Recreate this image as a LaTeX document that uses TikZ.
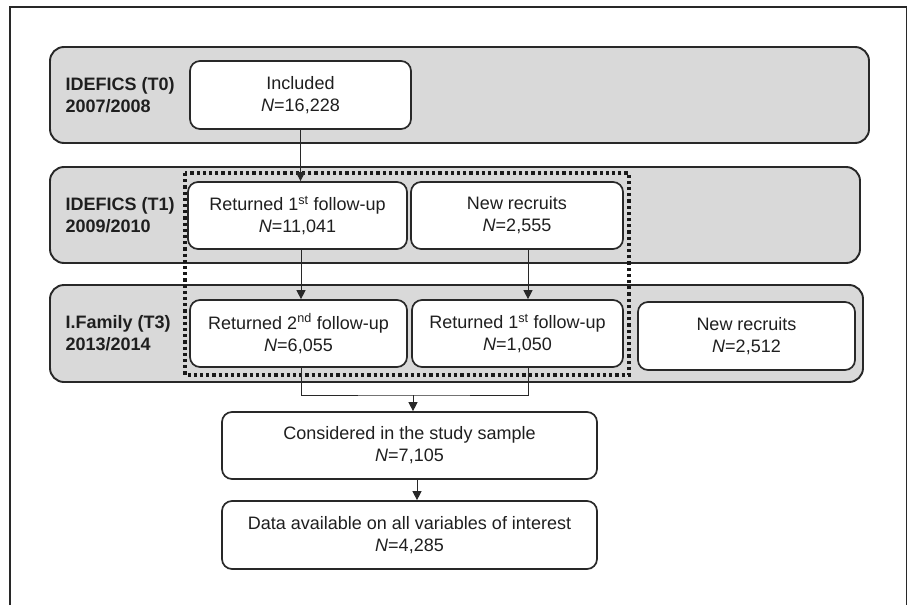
\documentclass[tikz,border=0pt]{standalone}
\usepackage{fontspec}
\setmainfont{Liberation Sans}
\usepackage{tikz}
\usetikzlibrary{arrows.meta,positioning,calc}
\definecolor{bandgray}{RGB}{217,217,217}
\definecolor{linegray}{RGB}{40,40,40}

\begin{document}
\begin{tikzpicture}[x=1pt, y=-1pt,
    every node/.style={font=\fontsize{18}{22}\selectfont, text=black!88},
    band/.style={draw=linegray, line width=1.9pt, rounded corners=14pt, fill=bandgray},
    stage/.style={draw=linegray, line width=1.7pt, rounded corners=10pt, fill=white, align=center},
    wave/.style={anchor=west, align=left, font=\fontsize{18}{22}\selectfont\bfseries},
    flow/.style={-{Triangle[length=9pt,width=9pt]}, line width=1pt, linegray}]
    \useasboundingbox (0,0) rectangle (912,605);
    \draw[line width=1.7pt, linegray] (10,605) -- (10,7) -- (906.5,7) -- (906.5,605);

    % time points
    \node[band, minimum width=819, minimum height=96] (bandA) at (459.5,95) {};
    \node[band, minimum width=810, minimum height=96] (bandB) at (455,215) {};
    \node[band, minimum width=813, minimum height=97] (bandC) at (456.5,333.5) {};

    \node[wave] (labA) at (62,95) {IDEFICS (T0)\\2007/2008};
    \node[wave] (labB) at (62,215) {IDEFICS (T1)\\2009/2010};
    \node[wave] (labC) at (62,333.5) {I.Family (T3)\\2013/2014};

    % samples
    \node[stage, minimum width=221, minimum height=68] (incl) at (300.5,95) {Included\\\textit{N}=16,228};

    \node[stage, minimum width=219, minimum height=67] (ret1) at (297.5,215.5) {Returned 1\textsuperscript{st} follow-up\\\textit{N}=11,041};
    \node[stage, minimum width=212, minimum height=67] (new1) at (517,215.5) {New recruits\\\textit{N}=2,555};

    \node[stage, minimum width=217, minimum height=67] (ret2) at (298.5,333.5) {Returned 2\textsuperscript{nd} follow-up\\\textit{N}=6,055};
    \node[stage, minimum width=211, minimum height=67] (ret1b) at (517.5,333.5) {Returned 1\textsuperscript{st} follow-up\\\textit{N}=1,050};
    \node[stage, minimum width=217, minimum height=68] (new3) at (746.5,336) {New recruits\\\textit{N}=2,512};

    \node[stage, minimum width=375, minimum height=67] (cons) at (409.5,445.5) {Considered in the study sample\\\textit{N}=7,105};
    \node[stage, minimum width=375, minimum height=68] (data) at (409.5,535) {Data available on all variables of interest\\\textit{N}=4,285};

    % study sample selection
    \draw[line width=3.2pt, dash pattern=on 3.2pt off 3pt, black!90] (185,173) rectangle (629,375);

    \coordinate (join) at (413,395);

    \draw[flow] (incl.south) -- (incl.south |- ret1.north);
    \draw[flow] ([xshift=3.5pt]ret1.south) -- ([xshift=3.5pt]ret1.south |- ret2.north);
    \draw[flow] ([xshift=11pt]new1.south) -- ([xshift=11pt]new1.south |- ret1b.north);
    \draw[line width=1pt, linegray] ([xshift=2.5pt]ret2.south) |- (join) -| ([xshift=10.5pt]ret1b.south);
    \draw[flow] (join) -- (join |- cons.north);
    \draw[flow] ([xshift=7.5pt]cons.south) -- ([xshift=7.5pt]cons.south |- data.north);
\end{tikzpicture}
\end{document}
